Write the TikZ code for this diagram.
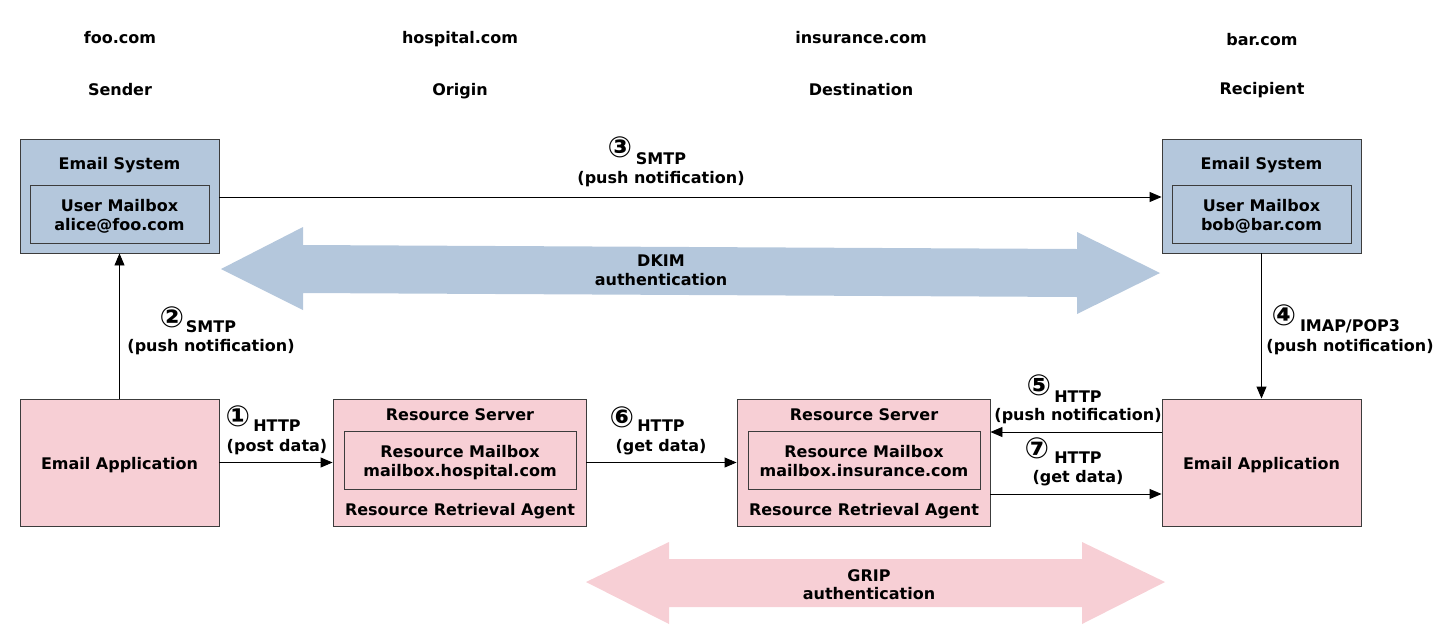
\documentclass[tikz,border=0pt]{standalone}
\usepackage{fontspec}
\setmainfont{DejaVu Sans}
\usetikzlibrary{arrows.meta}
\definecolor{boxblue}{HTML}{B4C7DC}
\definecolor{boxpink}{HTML}{F7CFD5}
\definecolor{edgegray}{HTML}{3C3C3C}
\tikzset{
  box/.style={draw=edgegray, line width=0.9pt, inner sep=0pt},
  bluebox/.style={box, fill=boxblue},
  pinkbox/.style={box, fill=boxpink},
  txt/.style={anchor=base, inner sep=0pt, font=\bfseries\fontsize{16}{19}\selectfont},
  num/.style={anchor=center, inner sep=0pt, font=\bfseries\fontsize{29}{29}\selectfont},
  arr/.style={line width=0.9pt, -{Triangle[length=12pt,width=10pt]}},
}
\begin{document}
\begin{tikzpicture}[x=1pt,y=-1pt]
\useasboundingbox (0,0) rectangle (1440,643);
% big double arrows
\fill[boxblue] (221,269) -- (303,227) -- (303,245) -- (1077,249) -- (1077,232) -- (1160,273) -- (1077,314) -- (1077,297) -- (303,293) -- (303,310) -- cycle;
\fill[boxpink] (586,582) -- (669,542) -- (669,559) -- (1082,559) -- (1082,542) -- (1165,582) -- (1082,624) -- (1082,607) -- (669,607) -- (669,624) -- cycle;
\node[txt] (dkim1) at (661,266) {DKIM};
\node[txt] (dkim2) at (661,285) {authentication};
\node[txt] (grip1) at (869,581) {GRIP};
\node[txt] (grip2) at (869,599) {authentication};
% column heads
\node[txt] (h1) at (120,43) {foo.com};
\node[txt] (h2) at (460,43) {hospital.com};
\node[txt] (h3) at (861,43) {insurance.com};
\node[txt] (h4) at (1262,45) {bar.com};
\node[txt] (r1) at (120,95) {Sender};
\node[txt] (r2) at (460,95) {Origin};
\node[txt] (r3) at (861,95) {Destination};
\node[txt] (r4) at (1262,94) {Recipient};
% email systems
\node[bluebox, minimum width=199pt, minimum height=114pt] (es1) at (119.5,196) {};
\node[bluebox, minimum width=179pt, minimum height=58pt] (mb1) at (119.5,214) {};
\node[txt] (es1t) at (119.5,169) {Email System};
\node[txt] (mb1a) at (119.5,211) {User Mailbox};
\node[txt] (mb1b) at (119.5,230) {alice@foo.com};
\node[bluebox, minimum width=199pt, minimum height=114pt] (es2) at (1261.5,196) {};
\node[bluebox, minimum width=179pt, minimum height=58pt] (mb2) at (1261.5,214) {};
\node[txt] (es2t) at (1261.5,169) {Email System};
\node[txt] (mb2a) at (1261.5,211) {User Mailbox};
\node[txt] (mb2b) at (1261.5,230) {bob@bar.com};
% email applications
\node[pinkbox, minimum width=199pt, minimum height=127pt] (ea1) at (119.5,462.5) {};
\node[txt] (ea1t) at (119.5,469) {Email Application};
\node[pinkbox, minimum width=199pt, minimum height=127pt] (ea2) at (1261.5,462.5) {};
\node[txt] (ea2t) at (1261.5,469) {Email Application};
% resource servers
\node[pinkbox, minimum width=253pt, minimum height=127pt] (rs1) at (459.5,462.5) {};
\node[pinkbox, minimum width=232pt, minimum height=58pt] (rm1) at (460,460) {};
\node[txt] (rs1t) at (460,420) {Resource Server};
\node[txt] (rm1a) at (460,457) {Resource Mailbox};
\node[txt] (rm1b) at (460,476) {mailbox.hospital.com};
\node[txt] (ra1) at (460,515) {Resource Retrieval Agent};
\node[pinkbox, minimum width=253pt, minimum height=127pt] (rs2) at (863.5,462.5) {};
\node[pinkbox, minimum width=232pt, minimum height=58pt] (rm2) at (864,460) {};
\node[txt] (rs2t) at (864,420) {Resource Server};
\node[txt] (rm2a) at (864,457) {Resource Mailbox};
\node[txt] (rm2b) at (864,476) {mailbox.insurance.com};
\node[txt] (ra2) at (864,515) {Resource Retrieval Agent};
% connectors
\draw[arr] (ea1.north) -- (es1.south);
\draw[arr] ([yshift=-1pt]es1.east) -- ([yshift=-1pt]es2.west);
\draw[arr] (es2.south) -- (ea2.north);
\draw[arr] (ea1.east) -- (rs1.west);
\draw[arr] (rs1.east) -- (rs2.west);
\draw[arr] ([yshift=30.5pt]ea2.west) -- ([yshift=30.5pt]rs2.east);
\draw[arr] ([yshift=-31.5pt]rs2.east) -- ([yshift=-31.5pt]ea2.west);
% connector labels
\node[num] (n3) at (620,147) {③};
\node[txt] (l3a) at (661,164) {SMTP};
\node[txt] (l3b) at (661,183) {(push notification)};
\node[num] (n2) at (172,317) {②};
\node[txt] (l2a) at (211,332) {SMTP};
\node[txt] (l2b) at (211,351) {(push notification)};
\node[num] (n1) at (238,416) {①};
\node[txt] (l1a) at (277,431) {HTTP};
\node[txt] (l1b) at (277,451) {(post data)};
\node[num] (n6) at (622,417) {⑥};
\node[txt] (l6a) at (661,431) {HTTP};
\node[txt] (l6b) at (661,451) {(get data)};
\node[num] (n5) at (1039,385) {⑤};
\node[txt] (l5a) at (1078,402) {HTTP};
\node[txt] (l5b) at (1078,420) {(push notification)};
\node[num] (n7) at (1037,448) {⑦};
\node[txt] (l7a) at (1078,463) {HTTP};
\node[txt] (l7b) at (1078,482) {(get data)};
\node[num] (n4) at (1284,315) {④};
\node[txt] (l4a) at (1350,331) {IMAP/POP3};
\node[txt] (l4b) at (1350,351) {(push notification)};
\end{tikzpicture}
\end{document}
